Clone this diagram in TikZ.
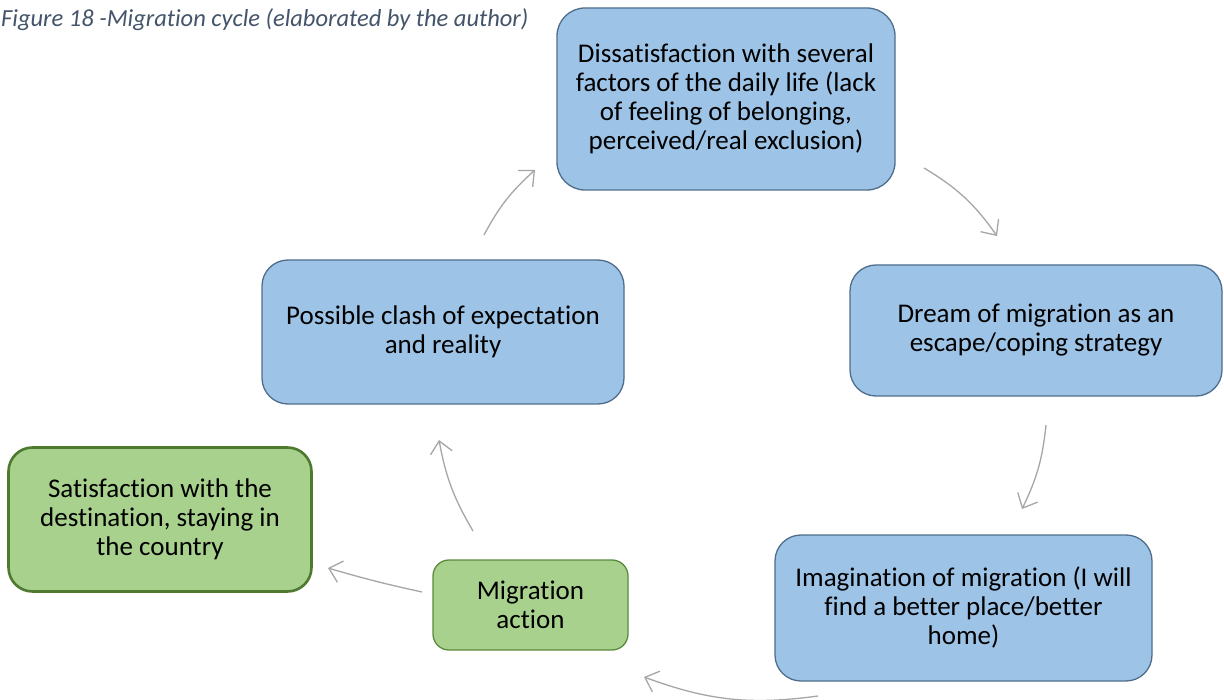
\documentclass[tikz,border=0pt]{standalone}
\usepackage{fontspec}
\setmainfont{Carlito}[Ligatures={NoCommon}]
\usetikzlibrary{arrows.meta}
\definecolor{bluefill}{HTML}{9DC3E6}
\definecolor{blueline}{HTML}{4F6E8C}
\definecolor{greenfill}{HTML}{A9D18E}
\definecolor{greenline}{HTML}{5C8A3C}
\definecolor{greendark}{HTML}{4E7A2F}
\definecolor{arrowgray}{HTML}{A6A6A6}
\definecolor{captioncol}{HTML}{44546A}
\tikzset{
  bluebox/.style={draw=blueline, line width=1.3pt, fill=bluefill, rounded corners=28pt, align=center, inner sep=0pt, font=\fontsize{27}{29}\selectfont},
  greenbox/.style={draw=greenline, line width=1.3pt, fill=greenfill, rounded corners=16pt, align=center, inner sep=0pt, font=\fontsize{27}{29}\selectfont},
  cyclearrow/.style={draw=arrowgray, line width=1.3pt, -{Straight Barb[length=12pt,width=22pt,line width=1.3pt]}},
}
\begin{document}
\begin{tikzpicture}[x=1pt,y=-1pt]
\useasboundingbox (0,0) rectangle (1224,700);
\fill[white] (0,0) rectangle (1224,700);
\node[anchor=north west, inner sep=0pt, text=captioncol, font=\fontsize{24.5}{26}\selectfont\itshape] (cap) at (1,8) {Figure 18 -Migration cycle (elaborated by the author)};

\node[bluebox, minimum width=338pt, minimum height=182pt] (dis) at (726,99) {Dissatisfaction with several\\factors of the daily life (lack\\of feeling of belonging,\\perceived/real exclusion)};
\node[bluebox, rounded corners=26pt, minimum width=372pt, minimum height=131pt] (dream) at (1036,330.5) {Dream of migration as an\\escape/coping strategy};
\node[bluebox, rounded corners=26pt, minimum width=377pt, minimum height=146pt] (imag) at (963.5,608) {Imagination of migration (I will\\find a better place/better\\home)};
\node[bluebox, rounded corners=26pt, minimum width=362pt, minimum height=144pt] (clash) at (443,332) {Possible clash of expectation\\and reality};
\node[greenbox, minimum width=195pt, minimum height=90pt] (act) at (530.5,605) {Migration\\action};
\node[greenbox, draw=greendark, line width=2.6pt, rounded corners=24pt, minimum width=303pt, minimum height=144pt] (sat) at (160,519.5) {Satisfaction with the\\destination, staying in\\the country};

\coordinate (a1s) at (924,168);
\coordinate (a1e) at (997,236);
\coordinate (a2s) at (1046,425);
\coordinate (a2e) at (1022,509);
\coordinate (a3s) at (818,696);
\coordinate (a3e) at (644,677);
\coordinate (a4s) at (473,531);
\coordinate (a4e) at (439,440);
\coordinate (a5s) at (422,592);
\coordinate (a5e) at (328,568);
\coordinate (a6s) at (484,235);
\coordinate (a6e) at (535,170);

\draw[cyclearrow] (a1s) to[bend left=12] (a1e);
\draw[cyclearrow] (a2s) to[bend left=10] (a2e);
\draw[cyclearrow] (a3s) to[bend left=14] (a3e);
\draw[cyclearrow] (a4s) to[bend left=10] (a4e);
\draw[cyclearrow] (a5s) to[bend left=2] (a5e);
\draw[cyclearrow] (a6s) to[bend left=10] (a6e);
\end{tikzpicture}
\end{document}
